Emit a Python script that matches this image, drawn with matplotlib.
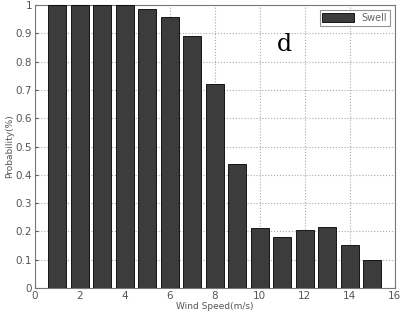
import matplotlib
matplotlib.use("Agg")
from matplotlib import pyplot as plt

speeds = [1, 2, 3, 4, 5, 6, 7, 8, 9, 10, 11, 12, 13, 14, 15]
probs = [1.0, 1.0, 1.0, 1.0, 0.985, 0.958, 0.89, 0.722, 0.437, 0.212, 0.18, 0.205, 0.216, 0.153, 0.099]
xticks = [0, 2, 4, 6, 8, 10, 12, 14, 16]
yticks = [0, 0.1, 0.2, 0.3, 0.4, 0.5, 0.6, 0.7, 0.8, 0.9, 1]

fig = plt.figure(figsize=(4.02, 3.19), dpi=100)
ax = fig.add_axes([0.087, 0.097, 0.895, 0.887])

ax.bar(speeds, probs, width=0.8, color='#3c3c3c', edgecolor='black', linewidth=0.6, label='Swell', zorder=3)

ax.set_xlim(0, 16)
ax.set_ylim(0, 1)
ax.set_xticks(xticks)
ax.set_yticks(yticks)
ax.set_xticklabels([str(t) for t in xticks])
ax.set_yticklabels(['0', '0.1', '0.2', '0.3', '0.4', '0.5', '0.6', '0.7', '0.8', '0.9', '1'])
ax.tick_params(direction='in', labelsize=7.5, colors='#555555', length=2, pad=2)
ax.grid(True, linestyle=':', color='#aaaaaa', linewidth=0.8, zorder=0)
for s in ax.spines.values():
    s.set_color('#777777')

ax.set_xlabel('Wind Speed(m/s)', fontsize=6.5, color='#555555', labelpad=1)
ax.set_ylabel('Probability(%)', fontsize=6.5, color='#555555', labelpad=1)

ax.text(11.1, 0.86, 'd', fontsize=17, family='DejaVu Serif', ha='center', va='center', zorder=4)

leg = ax.legend(loc='upper right', fontsize=7, frameon=True, fancybox=False, edgecolor='#777777',
                handlelength=3.2, handleheight=1.0, borderpad=0.3, labelcolor='#666666')
leg.get_frame().set_linewidth(0.8)

plt.savefig('out.png', dpi=100)
